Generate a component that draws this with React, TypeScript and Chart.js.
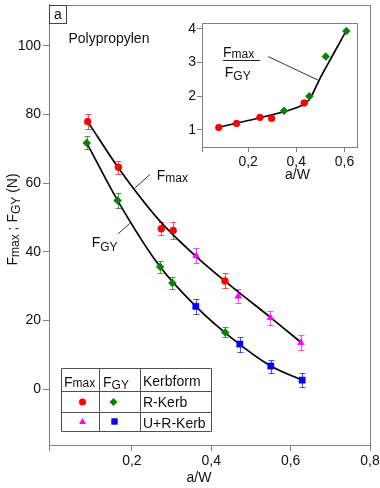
import React, { useEffect, useRef } from 'react';
import { Chart, registerables } from 'chart.js';

Chart.register(...registerables);

const FONT = "'Liberation Sans', Arial, Helvetica, sans-serif";
const AXIS = '#808080';
const TEXT = '#111111';
const RED = '#ff0000';
const GREEN = '#0a800a';
const MAGENTA = '#ff00ff';
const BLUE = '#0000ff';

// ---------- main chart data ----------
const rKerbFmaxX = [0.0885, 0.166, 0.274, 0.304, 0.4345];
const rKerbFmaxY = [77.9, 64.6, 46.7, 46.2, 31.5];
const rKerbFmaxErr = [2.2, 1.9, 1.9, 2.5, 2.2];

const urKerbFmaxX = [0.362, 0.468, 0.549, 0.626];
const urKerbFmaxY = [38.8, 27.0, 20.8, 13.5];
const urKerbFmaxErr = [2.2, 2.0, 2.0, 2.2];

const rKerbFgyX = [0.086, 0.164, 0.271, 0.302, 0.435];
const rKerbFgyY = [71.7, 54.9, 35.6, 30.9, 16.5];
const rKerbFgyErr = [1.9, 2.1, 1.8, 1.7, 1.45];

const urKerbFgyX = [0.361, 0.472, 0.55, 0.629];
const urKerbFgyY = [24.1, 13.1, 6.7, 2.6];
const urKerbFgyErr = [2.2, 2.2, 1.9, 2.0];

const fitFmaxX = [0.0885, 0.166, 0.27, 0.362, 0.45, 0.549, 0.626];
const fitFmaxY = [77.9, 64.4, 49.0, 38.6, 30.0, 20.9, 13.6];

const fitFgyX = [0.086, 0.164, 0.271, 0.361, 0.45, 0.55, 0.629];
const fitFgyY = [71.7, 54.9, 35.6, 24.1, 15.0, 6.7, 2.6];

const xMin = -0.009;
const xMax = 0.8;
const yMin = -16.3;
const yMax = 111.9;
const xTicks = [0.2, 0.4, 0.6, 0.8];
const yTicks = [0, 20, 40, 60, 80, 100];

// ---------- inset data (Fmax / FGY) ----------
const ratioRX = [0.078, 0.152, 0.249, 0.2975, 0.433];
const ratioRY = [1.072, 1.19, 1.37, 1.34, 1.8];
const ratioGX = [0.349, 0.454, 0.5225, 0.608];
const ratioGY = [1.566, 2.0, 3.175, 3.93];
const fitRatioX = [0.078, 0.2, 0.3, 0.4, 0.44, 0.46, 0.5, 0.55, 0.608];
const fitRatioY = [1.08, 1.28, 1.45, 1.66, 1.8, 1.97, 2.55, 3.2, 3.95];

const insetXMin = 0.0083;
const insetXMax = 0.652;
const insetYMin = 0.494;
const insetYMax = 4.17;
const insetXTicks = [0.2, 0.4, 0.6];
const insetYTicks = [1, 2, 3, 4];

const fmt = (v: number) => v.toFixed(1).replace('.', ',');
const pts = (xs: number[], ys: number[]) => xs.map((x, i) => ({ x, y: ys[i] }));

type Part = { t: string; off?: number };

function richWidth(ctx: CanvasRenderingContext2D, parts: Part[], size: number, subSize: number) {
  let w = 0;
  for (const p of parts) {
    ctx.font = `${p.off !== undefined ? subSize : size}px ${FONT}`;
    w += ctx.measureText(p.t).width;
  }
  return w;
}

function drawRich(ctx: CanvasRenderingContext2D, parts: Part[], x: number, y: number, size: number, subSize: number) {
  let cx = x;
  ctx.textAlign = 'left';
  ctx.textBaseline = 'alphabetic';
  for (const p of parts) {
    const sub = p.off !== undefined;
    ctx.font = `${sub ? subSize : size}px ${FONT}`;
    ctx.fillText(p.t, cx, sub ? y + (p.off as number) : y);
    cx += ctx.measureText(p.t).width;
  }
  return cx - x;
}

function marker(ctx: CanvasRenderingContext2D, style: string, x: number, y: number, r: number, color: string) {
  ctx.save();
  ctx.fillStyle = color;
  ctx.beginPath();
  if (style === 'circle') {
    ctx.arc(x, y, r, 0, Math.PI * 2);
  } else if (style === 'rectRot') {
    ctx.moveTo(x, y - r);
    ctx.lineTo(x + r, y);
    ctx.lineTo(x, y + r);
    ctx.lineTo(x - r, y);
    ctx.closePath();
  } else if (style === 'triangle') {
    const h = r * 1.5;
    ctx.moveTo(x, y - r);
    ctx.lineTo(x + r * 0.87, y - r + h);
    ctx.lineTo(x - r * 0.87, y - r + h);
    ctx.closePath();
  } else {
    ctx.rect(x - r, y - r, 2 * r, 2 * r);
  }
  ctx.fill();
  ctx.restore();
}

const errorBarPlugin = {
  id: 'errorBars',
  beforeDatasetsDraw(chart: any) {
    const ctx = chart.ctx as CanvasRenderingContext2D;
    const ys = chart.scales.y;
    chart.data.datasets.forEach((ds: any, i: number) => {
      if (!ds.errors) return;
      const meta = chart.getDatasetMeta(i);
      ctx.save();
      ctx.strokeStyle = ds.errorColor;
      ctx.lineWidth = 1;
      meta.data.forEach((el: any, j: number) => {
        const v = ds.data[j].y;
        const e = ds.errors[j];
        const x = Math.round(el.x) + 0.5;
        const top = Math.round(ys.getPixelForValue(v + e)) + 0.5;
        const bot = Math.round(ys.getPixelForValue(v - e)) + 0.5;
        ctx.beginPath();
        ctx.moveTo(x, top);
        ctx.lineTo(x, bot);
        ctx.moveTo(x - 3, top);
        ctx.lineTo(x + 3, top);
        ctx.moveTo(x - 3, bot);
        ctx.lineTo(x + 3, bot);
        ctx.stroke();
      });
      ctx.restore();
    });
  },
};

const framePlugin = {
  id: 'frame',
  afterDraw(chart: any) {
    const { left, right, top, bottom } = chart.chartArea;
    const ctx = chart.ctx as CanvasRenderingContext2D;
    ctx.save();
    ctx.strokeStyle = AXIS;
    ctx.lineWidth = 1;
    const l = Math.round(left) + 0.5;
    const r = Math.round(right) + 0.5;
    const t = Math.round(top) + 0.5;
    const b = Math.round(bottom) + 0.5;
    ctx.strokeRect(l, t, r - l, b - t);
    ctx.restore();
  },
};

const mainAnnotations = {
  id: 'mainAnnotations',
  afterDraw(chart: any) {
    const ctx = chart.ctx as CanvasRenderingContext2D;
    const xs = chart.scales.x;
    const ys = chart.scales.y;
    const { left, top, right, bottom } = chart.chartArea;
    const px = (v: number) => xs.getPixelForValue(v);
    const py = (v: number) => ys.getPixelForValue(v);
    ctx.save();
    ctx.fillStyle = TEXT;

    // panel letter box
    ctx.strokeStyle = '#444444';
    ctx.lineWidth = 1;
    ctx.strokeRect(Math.round(left) + 0.5, Math.round(top) + 0.5, 17, 18);
    ctx.font = `14px ${FONT}`;
    ctx.textAlign = 'center';
    ctx.textBaseline = 'alphabetic';
    ctx.fillText('a', left + 9, top + 14.5);

    // material name
    ctx.textAlign = 'left';
    ctx.fillText('Polypropylen', left + 19.5, top + 38.5);

    // curve labels with leader lines
    ctx.strokeStyle = '#333333';
    ctx.lineWidth = 1;
    ctx.beginPath();
    ctx.moveTo(px(0.2455), py(62.5));
    ctx.lineTo(px(0.2077), py(58.6));
    ctx.moveTo(px(0.1657), py(45.26));
    ctx.lineTo(px(0.195), py(48.3));
    ctx.stroke();
    drawRich(ctx, [{ t: 'F' }, { t: 'max', off: 2 }], px(0.2624), py(60.76), 14, 12);
    drawRich(ctx, [{ t: 'F' }, { t: 'GY', off: 4 }], px(0.0986), py(41.3), 14, 12);

    // y axis title (rotated)
    const yParts: Part[] = [{ t: 'F' }, { t: 'max', off: 2 }, { t: ' ; F' }, { t: 'GY', off: 3 }, { t: ' (N)' }];
    const w = richWidth(ctx, yParts, 14, 12);
    ctx.save();
    ctx.translate(16.5, (top + bottom) / 2 - 5.5);
    ctx.rotate(-Math.PI / 2);
    drawRich(ctx, yParts, -w / 2, 0, 14, 12);
    ctx.restore();

    // x axis title
    ctx.font = `14px ${FONT}`;
    ctx.textAlign = 'center';
    ctx.textBaseline = 'middle';
    ctx.fillText('a/W', px(0.369), bottom + 33);

    // legend table
    const tl = 61.5, tr = 211.5, tt = 368.5, tb = 431.5;
    const c1 = 99.5, c2 = 140.5, r1 = 391.5, r2 = 412.5;
    ctx.strokeStyle = '#505050';
    ctx.beginPath();
    ctx.rect(tl, tt, tr - tl, tb - tt);
    ctx.moveTo(c1, tt); ctx.lineTo(c1, tb);
    ctx.moveTo(c2, tt); ctx.lineTo(c2, tb);
    ctx.moveTo(tl, r1); ctx.lineTo(tr, r1);
    ctx.moveTo(tl, r2); ctx.lineTo(tr, r2);
    ctx.stroke();
    ctx.fillStyle = TEXT;
    drawRich(ctx, [{ t: 'F' }, { t: 'max', off: 0.5 }], 64, 386.5, 14, 12);
    drawRich(ctx, [{ t: 'F' }, { t: 'GY', off: 2.5 }], 103, 386.5, 14, 12);
    ctx.font = `14px ${FONT}`;
    ctx.textAlign = 'left';
    ctx.fillText('Kerbform', 143, 386);
    ctx.fillText('R-Kerb', 143, 407);
    ctx.fillText('U+R-Kerb', 143, 427.5);
    marker(ctx, 'circle', 82.5, 402, 3.5, RED);
    marker(ctx, 'rectRot', 113.5, 402, 4, GREEN);
    marker(ctx, 'triangle', 82.5, 422, 4, MAGENTA);
    marker(ctx, 'rect', 114.5, 421.5, 3.2, BLUE);
    ctx.restore();
  },
};

const insetAnnotations = {
  id: 'insetAnnotations',
  afterDraw(chart: any) {
    const ctx = chart.ctx as CanvasRenderingContext2D;
    const xs = chart.scales.x;
    const ys = chart.scales.y;
    const px = (v: number) => xs.getPixelForValue(v);
    const py = (v: number) => ys.getPixelForValue(v);
    const { bottom } = chart.chartArea;
    ctx.save();
    ctx.fillStyle = TEXT;
    drawRich(ctx, [{ t: 'F' }, { t: 'max', off: 1 }], px(0.0958), py(3.166), 14, 12);
    drawRich(ctx, [{ t: 'F' }, { t: 'GY', off: 3 }], px(0.103), py(2.57), 14, 12);
    ctx.strokeStyle = '#222222';
    ctx.lineWidth = 1;
    ctx.beginPath();
    const fy = Math.round(py(3.077)) + 0.5;
    ctx.moveTo(px(0.0958), fy);
    ctx.lineTo(px(0.2487), fy);
    ctx.stroke();
    ctx.strokeStyle = '#333333';
    ctx.beginPath();
    ctx.moveTo(px(0.283), py(3.175));
    ctx.lineTo(px(0.489), py(2.48));
    ctx.stroke();
    ctx.font = `14px ${FONT}`;
    ctx.textAlign = 'center';
    ctx.textBaseline = 'middle';
    ctx.fillText('a/W', px(0.405), bottom + 28);
    ctx.restore();
  },
};

function axisCommon(tickLength: number) {
  return {
    grid: { display: true, drawOnChartArea: false, drawTicks: true, tickLength, color: AXIS, lineWidth: 1 },
    border: { display: true, color: AXIS, width: 1 },
  };
}

export default function App() {
  const mainRef = useRef<HTMLCanvasElement | null>(null);
  const insetRef = useRef<HTMLCanvasElement | null>(null);

  useEffect(() => {
    document.body.style.margin = '0';
    const tickFont = { family: FONT, size: 14 };

    const main = new Chart(mainRef.current as HTMLCanvasElement, {
      type: 'scatter',
      data: {
        datasets: [
          {
            label: 'Fmax fit',
            data: pts(fitFmaxX, fitFmaxY),
            showLine: true,
            borderColor: '#000000',
            borderWidth: 1.7,
            pointRadius: 0,
            cubicInterpolationMode: 'monotone',
            fill: false,
            order: 2,
          },
          {
            label: 'FGY fit',
            data: pts(fitFgyX, fitFgyY),
            showLine: true,
            borderColor: '#000000',
            borderWidth: 1.7,
            pointRadius: 0,
            cubicInterpolationMode: 'monotone',
            fill: false,
            order: 2,
          },
          {
            label: 'Fmax R-Kerb',
            data: pts(rKerbFmaxX, rKerbFmaxY),
            pointStyle: 'circle',
            pointRadius: 3.5,
            backgroundColor: RED,
            borderColor: RED,
            borderWidth: 0.5,
            errors: rKerbFmaxErr,
            errorColor: 'rgba(255,0,0,0.7)',
            order: 1,
          },
          {
            label: 'Fmax U+R-Kerb',
            data: pts(urKerbFmaxX, urKerbFmaxY),
            pointStyle: 'triangle',
            pointRadius: 4,
            backgroundColor: MAGENTA,
            borderColor: MAGENTA,
            borderWidth: 0.5,
            errors: urKerbFmaxErr,
            errorColor: 'rgba(255,0,255,0.7)',
            order: 1,
          },
          {
            label: 'FGY R-Kerb',
            data: pts(rKerbFgyX, rKerbFgyY),
            pointStyle: 'rectRot',
            pointRadius: 4,
            backgroundColor: GREEN,
            borderColor: GREEN,
            borderWidth: 0.5,
            errors: rKerbFgyErr,
            errorColor: 'rgba(10,128,10,0.75)',
            order: 1,
          },
          {
            label: 'FGY U+R-Kerb',
            data: pts(urKerbFgyX, urKerbFgyY),
            pointStyle: 'rect',
            pointRadius: 4.4,
            backgroundColor: BLUE,
            borderColor: BLUE,
            borderWidth: 0.5,
            errors: urKerbFgyErr,
            errorColor: 'rgba(0,0,255,0.7)',
            order: 1,
          },
        ] as any,
      },
      options: {
        responsive: false,
        animation: false,
        events: [],
        layout: { padding: { top: 4, right: 10, left: 0, bottom: 0 } },
        plugins: { legend: { display: false }, tooltip: { enabled: false } },
        scales: {
          x: {
            type: 'linear',
            min: xMin,
            max: xMax,
            afterBuildTicks: (s: any) => {
              s.ticks = [{ value: xMin }, ...xTicks.map((v) => ({ value: v }))];
            },
            afterFit: (s: any) => {
              s.height = 43;
              s.paddingLeft = 0;
              s.paddingRight = 0;
            },
            ticks: {
              font: tickFont,
              color: TEXT,
              padding: 2,
              maxRotation: 0,
              autoSkip: false,
              callback: (v: any) => (v < 0.05 ? '' : fmt(Number(v))),
            },
            ...axisCommon(6),
          },
          y: {
            type: 'linear',
            min: yMin,
            max: yMax,
            afterBuildTicks: (s: any) => {
              s.ticks = yTicks.map((v) => ({ value: v }));
            },
            afterFit: (s: any) => {
              s.width = 49;
              s.paddingTop = 0;
              s.paddingBottom = 0;
            },
            ticks: {
              font: tickFont,
              color: TEXT,
              padding: 2,
              autoSkip: false,
              callback: (v: any) => String(v),
            },
            ...axisCommon(6),
          },
        },
      } as any,
      plugins: [errorBarPlugin, framePlugin, mainAnnotations],
    });

    const inset = new Chart(insetRef.current as HTMLCanvasElement, {
      type: 'scatter',
      data: {
        datasets: [
          {
            label: 'ratio fit',
            data: pts(fitRatioX, fitRatioY),
            showLine: true,
            borderColor: '#000000',
            borderWidth: 1.7,
            pointRadius: 0,
            cubicInterpolationMode: 'monotone',
            fill: false,
            order: 2,
          },
          {
            label: 'ratio R',
            data: pts(ratioRX, ratioRY),
            pointStyle: 'circle',
            pointRadius: 3.4,
            backgroundColor: RED,
            borderColor: RED,
            borderWidth: 0.5,
            order: 1,
          },
          {
            label: 'ratio G',
            data: pts(ratioGX, ratioGY),
            pointStyle: 'rectRot',
            pointRadius: 4,
            backgroundColor: GREEN,
            borderColor: GREEN,
            borderWidth: 0.5,
            order: 1,
          },
        ] as any,
      },
      options: {
        responsive: false,
        animation: false,
        events: [],
        layout: { padding: { top: 23, right: 13, left: 0, bottom: 0 } },
        plugins: { legend: { display: false }, tooltip: { enabled: false } },
        scales: {
          x: {
            type: 'linear',
            min: insetXMin,
            max: insetXMax,
            afterBuildTicks: (s: any) => {
              s.ticks = [{ value: insetXMin }, ...insetXTicks.map((v) => ({ value: v }))];
            },
            afterFit: (s: any) => {
              s.height = 43;
              s.paddingLeft = 0;
              s.paddingRight = 0;
            },
            ticks: {
              font: tickFont,
              color: TEXT,
              padding: 2,
              maxRotation: 0,
              autoSkip: false,
              callback: (v: any) => (v < 0.05 ? '' : fmt(Number(v))),
            },
            ...axisCommon(5),
          },
          y: {
            type: 'linear',
            min: insetYMin,
            max: insetYMax,
            afterBuildTicks: (s: any) => {
              s.ticks = insetYTicks.map((v) => ({ value: v }));
            },
            afterFit: (s: any) => {
              s.width = 52;
              s.paddingTop = 0;
              s.paddingBottom = 0;
            },
            ticks: {
              font: tickFont,
              color: TEXT,
              padding: 1,
              autoSkip: false,
              callback: (v: any) => String(v),
            },
            ...axisCommon(5),
          },
        },
      } as any,
      plugins: [framePlugin, insetAnnotations],
    });

    return () => {
      main.destroy();
      inset.destroy();
    };
  }, []);

  return (
    <div style={{ position: 'relative', width: 380, height: 488, background: '#ffffff' }}>
      <canvas ref={mainRef} width={380} height={488} style={{ position: 'absolute', left: 0, top: 0 }} />
      <canvas ref={insetRef} width={220} height={190} style={{ position: 'absolute', left: 150, top: 0 }} />
    </div>
  );
}
